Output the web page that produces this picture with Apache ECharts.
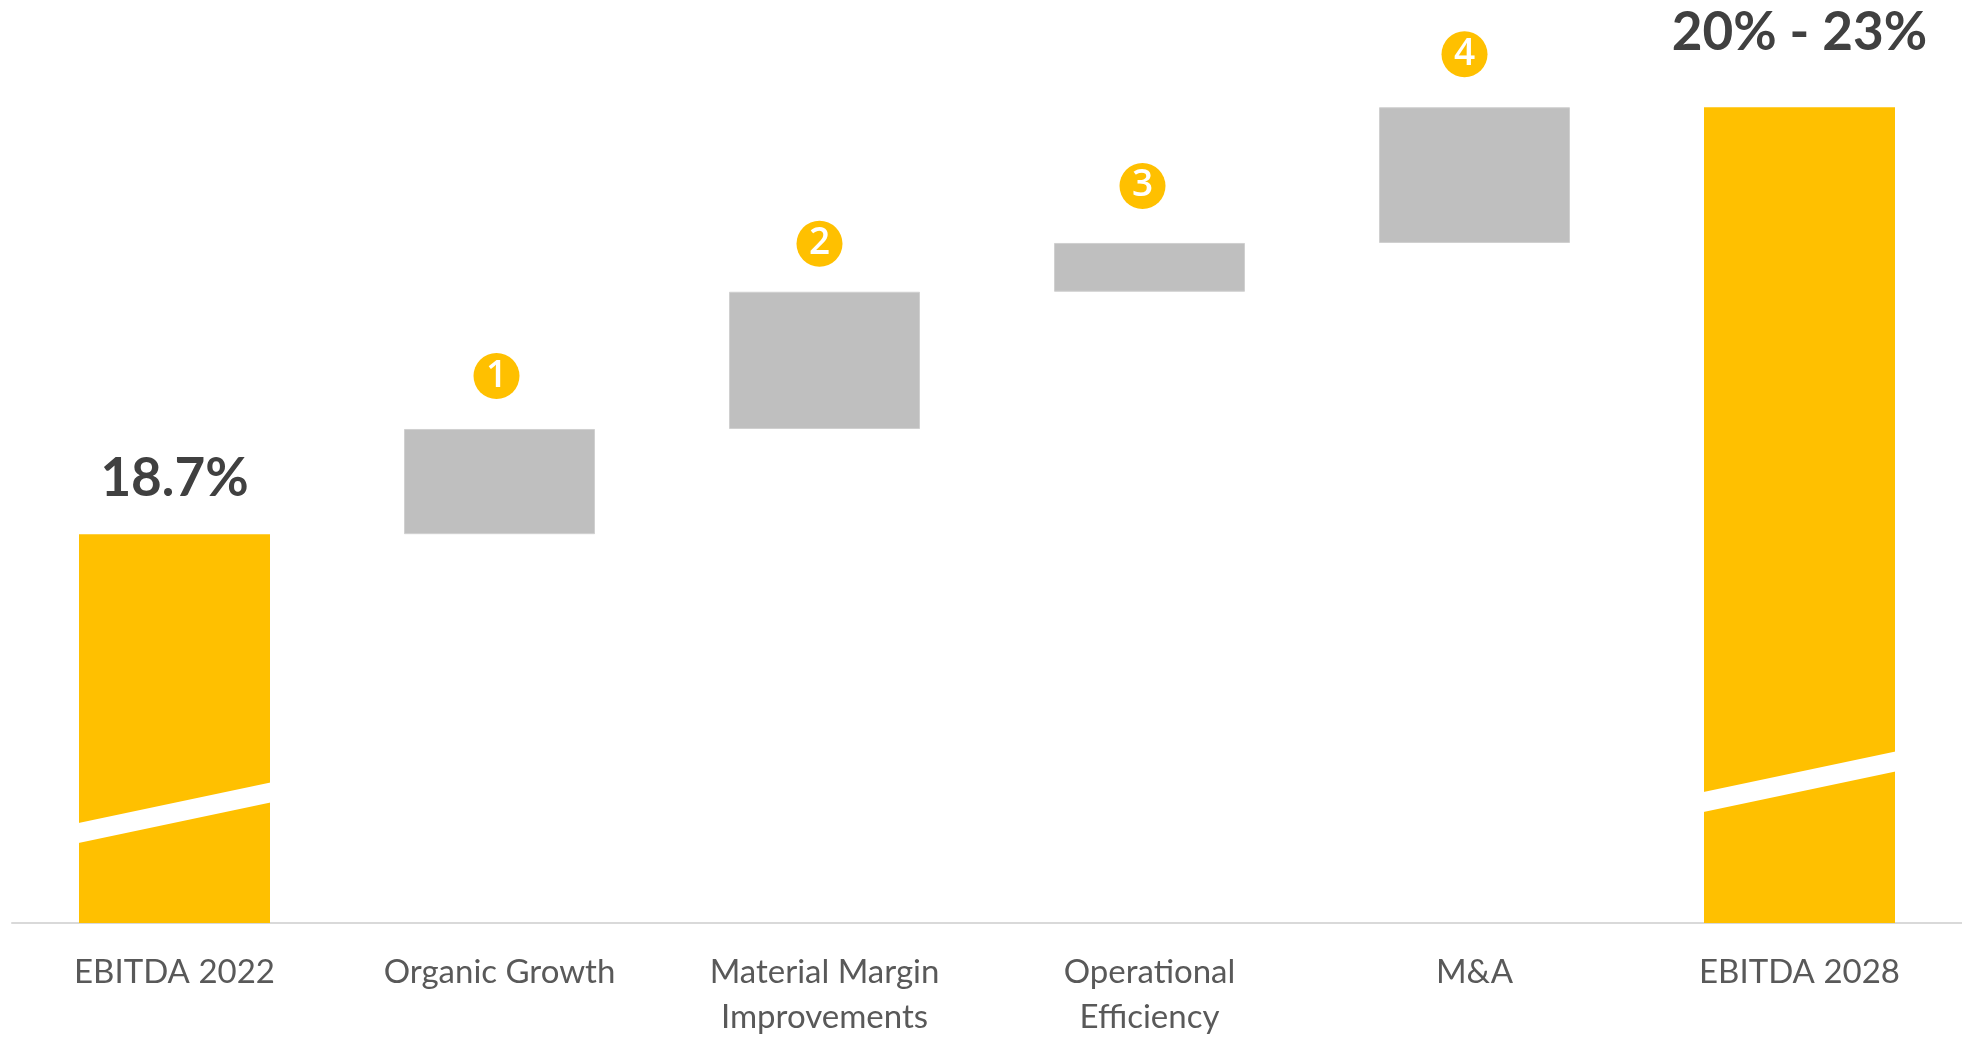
<!DOCTYPE html>
<html>
<head>
<meta charset="utf-8">
<title>EBITDA margin bridge 2022 – 2028</title>
<script src="https://cdn.jsdelivr.net/npm/echarts@6/dist/echarts.min.js"></script>
<style>
  html, body { margin: 0; padding: 0; background: #ffffff; }
  #chart { width: 1962px; height: 1037px; }
</style>
</head>
<body>
<div id="chart"></div>
<script>
// ---- data -----------------------------------------------------------------
const categories = ['EBITDA 2022', 'Organic Growth', 'Material Margin\nImprovements',
                    'Operational\nEfficiency', 'M&A', 'EBITDA 2028'];
const startMargin = 18.7;                 // EBITDA margin 2022, %
const driverSteps = [0.69, 0.90, 0.32, 0.89]; // margin uplift per driver, pts
const driverBadges = ['1', '2', '3', '4'];
const endMargin = 21.5;                   // mid-point of the 2028 target range, %
const totalLabels = ['18.7%', '20% - 23%'];

// ---- styling ----------------------------------------------------------------
const YELLOW = '#FFC000';
const GREY = '#BFBFBF';
const Y_MIN = 16.15;      // broken value axis: the bars do not start at zero
const Y_MAX = 22;
const BAR_W = 191;
const badgeLift = [30, 25, 34, 30];           // gap between a step and its badge
const badgeShift = [-3, -5, -7, -10];
const totalLabelLift = [29, 48];
const breakLift = [90, 121];                  // height of the axis-break stripe

// ---- waterfall series built from the data ---------------------------------
const n = categories.length;
const helper = new Array(n).fill('-');
const steps = new Array(n).fill('-');
const totals = new Array(n).fill('-');
totals[0] = { value: startMargin, label: { formatter: totalLabels[0], distance: totalLabelLift[0] } };
totals[n - 1] = { value: endMargin, label: { formatter: totalLabels[1], distance: totalLabelLift[1] } };
let running = startMargin;
driverSteps.forEach((d, k) => {
  const i = k + 1;
  helper[i] = +running.toFixed(4);
  steps[i] = {
    value: d,
    label: { formatter: driverBadges[k], distance: badgeLift[k], offset: [badgeShift[k], 0] }
  };
  running += d;
});

// the two total columns carry a slanted white "break" stripe
const breakData = [[0, Y_MIN], [n - 1, Y_MIN]];

function renderBreak(params, api) {
  const base = api.coord([api.value(0), api.value(1)]);
  const half = BAR_W / 2 + 0.5;
  const lift = breakLift[params.dataIndex];
  const rise = 40.5, thick = 10;
  const x0 = base[0] - half, x1 = base[0] + half;
  const yL = base[1] - lift, yR = yL - rise;
  return {
    type: 'polygon',
    shape: { points: [[x0, yL + thick], [x0, yL - thick], [x1, yR - thick], [x1, yR + thick]] },
    style: { fill: '#ffffff' }
  };
}

const chart = echarts.init(document.getElementById('chart'), null, { renderer: 'canvas' });
chart.setOption({
  animation: false,
  backgroundColor: '#ffffff',
  grid: { left: 12, right: 0, top: 31, bottom: 114, containLabel: false, outerBoundsMode: 'none' },
  xAxis: {
    type: 'category',
    data: categories,
    axisTick: { show: false },
    axisLine: { lineStyle: { color: '#D9D9D9', width: 2 } },
    axisLabel: {
      interval: 0,
      margin: 27,
      color: '#595959',
      fontFamily: 'Lato',
      fontSize: 33,
      lineHeight: 45
    }
  },
  yAxis: { type: 'value', min: Y_MIN, max: Y_MAX, show: false, splitLine: { show: false } },
  series: [
    {
      name: 'base', type: 'bar', stack: 'bridge', barWidth: BAR_W,
      itemStyle: { color: 'transparent' }, silent: true, data: helper
    },
    {
      name: 'drivers', type: 'bar', stack: 'bridge', barWidth: BAR_W,
      itemStyle: { color: GREY, borderColor: '#D0D0D0', borderWidth: 1 },
      label: {
        show: true, position: 'top',
        width: 46, height: 46, lineHeight: 46, borderRadius: 23,
        backgroundColor: YELLOW, align: 'center',
        color: '#ffffff', fontFamily: 'Open Sans', fontWeight: 600, fontSize: 37
      },
      data: steps
    },
    {
      name: 'margin', type: 'bar', stack: 'bridge', barWidth: BAR_W, clip: true,
      itemStyle: { color: YELLOW },
      label: {
        show: true, position: 'top',
        color: '#404040', fontFamily: 'Lato', fontWeight: 'bold', fontSize: 53, lineHeight: 53
      },
      data: totals
    },
    {
      name: 'break', type: 'custom', coordinateSystem: 'cartesian2d',
      renderItem: renderBreak, encode: { x: 0, y: 1 }, z: 5, clip: false, silent: true,
      data: breakData
    }
  ]
});
</script>
</body>
</html>
